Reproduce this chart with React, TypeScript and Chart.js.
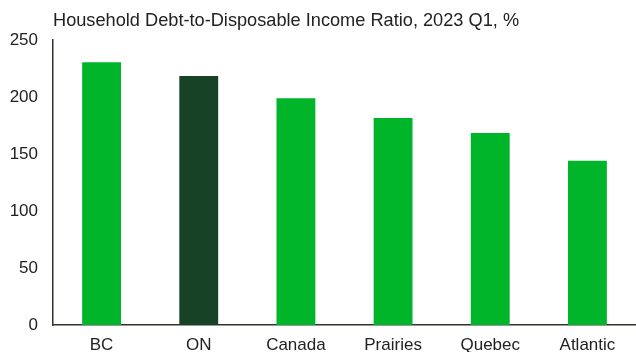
import React, { useEffect, useRef } from "react";
import { Chart, registerables } from "chart.js";

Chart.register(...registerables);

const TITLE = "Household Debt-to-Disposable Income Ratio, 2023 Q1, %";
const categories = ["BC", "ON", "Canada", "Prairies", "Quebec", "Atlantic"];
const ratios = [230.5, 218.5, 199, 181.5, 168.5, 144];
const barColors = ["#00B529", "#184226", "#00B529", "#00B529", "#00B529", "#00B529"];
const yTicks = [0, 50, 100, 150, 200, 250];

const FONT = "'Liberation Sans', Arial, sans-serif";

const titlePlugin = {
  id: "leftTitle",
  afterDraw(chart: any) {
    const { ctx, chartArea } = chart;
    ctx.save();
    ctx.font = `18.2px ${FONT}`;
    ctx.fillStyle = "#222222";
    ctx.textAlign = "left";
    ctx.textBaseline = "middle";
    ctx.fillText(TITLE, chartArea.left, 21);
    ctx.restore();
  },
};

export default function App() {
  const ref = useRef<HTMLCanvasElement | null>(null);
  useEffect(() => {
    if (!ref.current) return;
    const chart = new Chart(ref.current, {
      type: "bar",
      data: {
        labels: categories,
        datasets: [
          {
            data: ratios,
            backgroundColor: barColors,
            borderWidth: 0,
            barPercentage: 0.4,
            categoryPercentage: 1,
          },
        ],
      },
      options: {
        responsive: false,
        animation: false,
        layout: { padding: { top: 40, right: 0, left: 0, bottom: 0 } },
        plugins: { legend: { display: false }, tooltip: { enabled: false }, title: { display: false } },
        scales: {
          x: {
            grid: { display: false, drawTicks: false },
            border: { display: true, color: "#33332a", width: 1.5 },
            ticks: { font: { family: FONT, size: 17 }, color: "#222222", padding: 10 },
            afterFit: (s: any) => { s.height = 27; },
          },
          y: {
            min: 0,
            max: 250,
            grid: { display: false, drawTicks: false },
            border: { display: true, color: "#33332a", width: 1.5 },
            afterBuildTicks: (s: any) => { s.ticks = yTicks.map((v) => ({ value: v })); },
            ticks: { font: { family: FONT, size: 17 }, color: "#222222", padding: 15 },
            afterFit: (s: any) => { s.width = 53; },
          },
        },
      },
      plugins: [titlePlugin],
    });
    return () => chart.destroy();
  }, []);
  return (
    <div style={{ position: "absolute", left: 0, top: 0, width: 636, height: 352, background: "#fff" }}>
      <canvas ref={ref} width={636} height={352} style={{ display: "block" }} />
    </div>
  );
}
